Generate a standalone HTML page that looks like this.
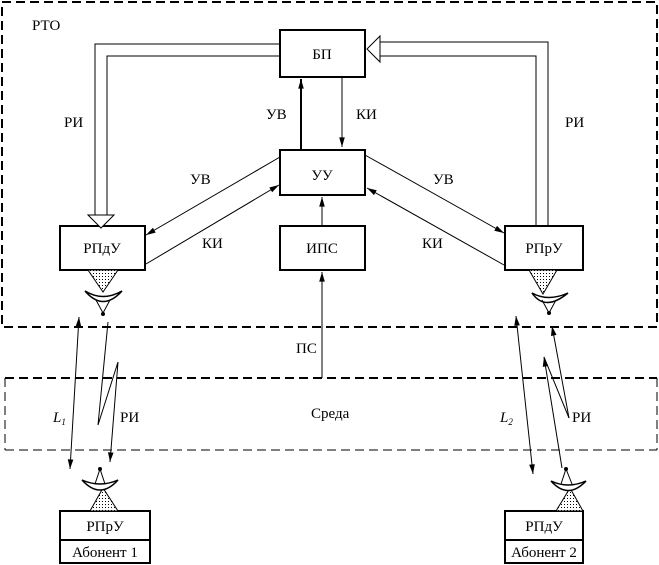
<!DOCTYPE html>
<html><head><meta charset="utf-8"><style>
body{margin:0;background:#fff}
svg{display:block}
text{font-family:"Liberation Serif",serif;font-size:15px;fill:#000}
</style></head><body>
<svg width="659" height="565" viewBox="0 0 659 565">
<defs>
<marker id="a" viewBox="0 0 12 10" refX="12" refY="5" markerWidth="12" markerHeight="8" orient="auto-start-reverse" markerUnits="userSpaceOnUse"><path d="M0,1.5 L12,5 L0,8.5 Z" fill="#000"/></marker>
<pattern id="d" width="3" height="3" patternUnits="userSpaceOnUse"><rect width="3" height="3" fill="#fff"/><rect width="1" height="1" fill="#000"/></pattern>
</defs>
<g fill="none" stroke="#000">
<rect x="2" y="2" width="655" height="325" stroke-width="2" stroke-dasharray="9,5"/>
<g shape-rendering="crispEdges">
<line x1="5" y1="378" x2="657" y2="378" stroke-width="2" stroke-dasharray="9,5"/>
<line x1="5" y1="450" x2="657" y2="450" stroke-width="1" stroke-dasharray="9,5"/>
<line x1="5" y1="378" x2="5" y2="450" stroke-width="1" stroke-dasharray="9,5"/>
<line x1="657" y1="378" x2="657" y2="450" stroke-width="1" stroke-dasharray="9,5"/>
</g>
<g stroke-width="2" fill="#fff">
<rect x="280" y="30" width="85" height="47"/>
<rect x="280" y="150" width="85" height="45"/>
<rect x="280" y="226" width="85" height="44"/>
<rect x="60" y="226" width="85" height="44"/>
<rect x="505" y="226" width="78" height="44"/>
<rect x="60" y="511" width="90" height="52"/><line x1="60" y1="540" x2="150" y2="540"/>
<rect x="505" y="511" width="78" height="52"/><line x1="505" y1="540" x2="583" y2="540"/>
</g>
<g stroke-width="1">
<polyline points="280,44 95,44 95,215"/>
<polyline points="280,56 107,56 107,215"/>
<polygon points="88,215 114,215 101,228" fill="#fff"/>
<polyline points="536,226 536,56 380,56"/>
<polyline points="548,226 548,42 380,42"/>
<polygon points="380,36 380,62 367,49" fill="#fff"/>
</g>
<line x1="301" y1="150" x2="301" y2="79" stroke-width="2" marker-end="url(#a)"/>
<line x1="342" y1="77" x2="342" y2="147" marker-end="url(#a)"/>
<line x1="322" y1="226" x2="322" y2="197" marker-end="url(#a)"/>
<line x1="322" y1="378" x2="322" y2="272" marker-end="url(#a)"/>
<line x1="280" y1="157" x2="146" y2="235" marker-end="url(#a)"/>
<line x1="146" y1="264" x2="279" y2="185" marker-end="url(#a)"/>
<line x1="365" y1="155" x2="504" y2="233" marker-end="url(#a)"/>
<line x1="504" y1="265" x2="367" y2="188" marker-end="url(#a)"/>
<g stroke-width="1">
<polygon points="88,270 118,270 103,292" fill="url(#d)"/>
<path d="M85,291 Q103,312 122,291 Q103,302 85,291 Z" fill="#fff" stroke-width="1.5"/>
<path d="M96,300 L103,313 L110,300" /><circle cx="103" cy="314" r="1.5" fill="#000"/>
<polygon points="529,270 557,270 543,294" fill="url(#d)"/>
<path d="M532,293 Q545,312 568,293 Q548,302 532,293 Z" fill="#fff" stroke-width="1.5"/>
<path d="M542,300 L549,313 L556,300"/><circle cx="549" cy="313" r="1.5" fill="#000"/>
<polygon points="90,511 118,511 103,488" fill="url(#d)"/>
<path d="M82,480 Q100,500 118,480 Q100,488 82,480 Z" fill="#fff" stroke-width="1.5"/>
<path d="M95,484 L100,469 L105,484"/><circle cx="100" cy="469" r="1.5" fill="#000"/>
<polygon points="556,511 583,511 570,488" fill="url(#d)"/>
<path d="M551,481 Q568,500 586,481 Q568,489 551,481 Z" fill="#fff" stroke-width="1.5"/>
<path d="M561,484 L566,469 L572,484"/><circle cx="566" cy="469" r="1.5" fill="#000"/>
</g>
<line x1="79" y1="317" x2="70" y2="469" marker-start="url(#a)" marker-end="url(#a)"/>
<polyline points="108,322 98,425 118,362 110,462" marker-end="url(#a)"/>
<line x1="516" y1="316" x2="533" y2="474" marker-start="url(#a)" marker-end="url(#a)"/>
<line x1="562" y1="468" x2="544" y2="357" marker-end="url(#a)"/>
<line x1="544" y1="357" x2="569" y2="418"/>
<line x1="569" y1="418" x2="552" y2="326" marker-end="url(#a)"/>
</g>
<text x="32" y="30">РТО</text>
<text x="64" y="127">РИ</text>
<text x="565" y="127">РИ</text>
<text x="266" y="119">УВ</text>
<text x="356" y="119">КИ</text>
<text x="190" y="184">УВ</text>
<text x="433" y="184">УВ</text>
<text x="202" y="248">КИ</text>
<text x="422" y="248">КИ</text>
<text x="322" y="180" text-anchor="middle">УУ</text>
<text x="322" y="59" text-anchor="middle">БП</text>
<text x="322" y="253" text-anchor="middle">ИПС</text>
<text x="102" y="253" text-anchor="middle">РПдУ</text>
<text x="544" y="253" text-anchor="middle">РПрУ</text>
<text x="296" y="353">ПС</text>
<text x="311" y="418">Среда</text>
<text x="53" y="422" font-style="italic">L<tspan font-size="9" dy="3">1</tspan></text>
<text x="500" y="422" font-style="italic">L<tspan font-size="9" dy="3">2</tspan></text>
<text x="120" y="422">РИ</text>
<text x="572" y="422">РИ</text>
<text x="105" y="531" text-anchor="middle">РПрУ</text>
<text x="105" y="557" text-anchor="middle">Абонент 1</text>
<text x="544" y="531" text-anchor="middle">РПдУ</text>
<text x="544" y="557" text-anchor="middle">Абонент 2</text>
</svg>
</body></html>
